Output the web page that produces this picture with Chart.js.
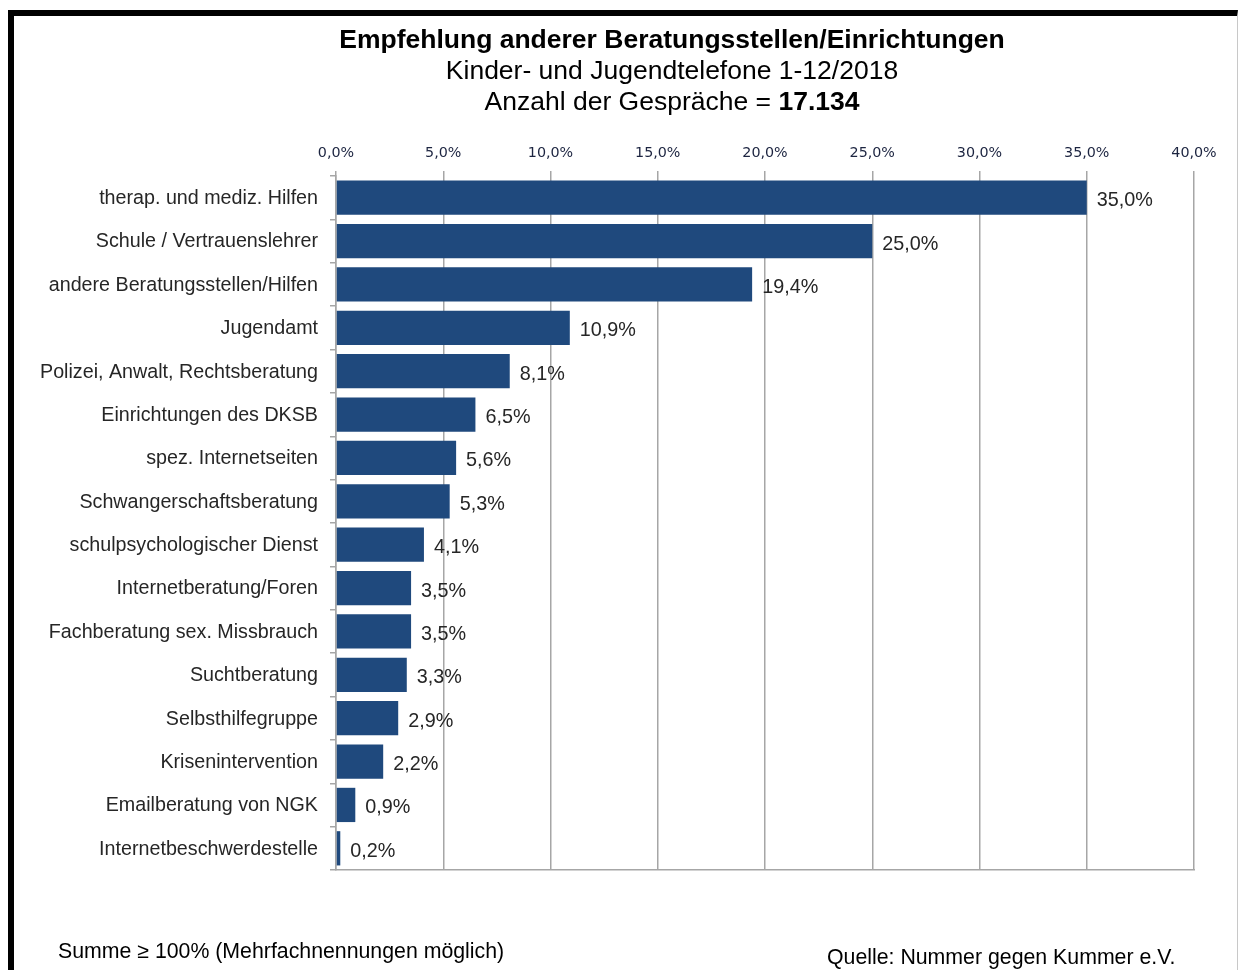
<!DOCTYPE html>
<html lang="de">
<head>
<meta charset="utf-8">
<title>Empfehlung anderer Beratungsstellen/Einrichtungen</title>
<script src="https://cdn.jsdelivr.net/npm/chart.js@4.4.0/dist/chart.umd.min.js"></script>
<style>
    html, body { margin: 0; padding: 0; background: #fff; }
    #page { position: relative; width: 1240px; height: 970px; overflow: hidden; font-family: "Liberation Sans", Arial, sans-serif; color: #000; }
    #frame { position: absolute; left: 8px; top: 10px; width: 1223px; height: 970px; border-top: 6px solid #000; border-left: 6px solid #000; border-right: 1px solid #c8c8c8; }
    #chartBox { position: absolute; left: 0; top: 0; width: 1240px; height: 970px; }
    .line { position: absolute; left: 672px; transform: translateX(-50%); white-space: nowrap; font-size: 26.5px; line-height: 30px; }
    .note { position: absolute; white-space: nowrap; font-size: 21.3px; line-height: 24px; color: #000; }
</style>
</head>
<body>
<div id="page">
    <div id="frame"></div>
    <div id="chartBox"><canvas id="chart"></canvas></div>
    <div class="line" style="top:24px;font-weight:bold;">Empfehlung anderer Beratungsstellen/Einrichtungen</div>
    <div class="line" style="top:55px;">Kinder- und Jugendtelefone 1-12/2018</div>
    <div class="line" style="top:86px;">Anzahl der Gespräche = <b>17.134</b></div>
    <div class="note" style="left:58px;top:939px;">Summe ≥ 100% (Mehrfachnennungen möglich)</div>
    <div class="note" style="left:827px;top:945px;">Quelle: Nummer gegen Kummer e.V.</div>
</div>
<script>
const categories = [
    'therap. und mediz. Hilfen',
    'Schule / Vertrauenslehrer',
    'andere Beratungsstellen/Hilfen',
    'Jugendamt',
    'Polizei, Anwalt, Rechtsberatung',
    'Einrichtungen des DKSB',
    'spez. Internetseiten',
    'Schwangerschaftsberatung',
    'schulpsychologischer Dienst',
    'Internetberatung/Foren',
    'Fachberatung sex. Missbrauch',
    'Suchtberatung',
    'Selbsthilfegruppe',
    'Krisenintervention',
    'Emailberatung von NGK',
    'Internetbeschwerdestelle'
];
const shares = [35.0, 25.0, 19.4, 10.9, 8.1, 6.5, 5.6, 5.3, 4.1, 3.5, 3.5, 3.3, 2.9, 2.2, 0.9, 0.2];
const axisMin = 0;
const axisMax = 40;
const axisStep = 5;

const gridColor = '#a6a6a6';
const fmt = v => v.toFixed(1).replace('.', ',') + '%';

// value labels right of each bar
const barLabels = {
    id: 'barLabels',
    afterDatasetsDraw(chart) {
        const ctx = chart.ctx;
        const meta = chart.getDatasetMeta(0);
        ctx.save();
        ctx.font = '19.8px "Liberation Sans", Arial, sans-serif';
        ctx.fillStyle = '#262626';
        ctx.textAlign = 'left';
        ctx.textBaseline = 'middle';
        meta.data.forEach((bar, i) => {
            ctx.fillText(fmt(shares[i]), bar.x + 10, bar.y + 3);
        });
        ctx.restore();
    }
};

document.addEventListener('DOMContentLoaded', () => {
    const data = {
        labels: categories,
        datasets: [{
            data: shares,
            backgroundColor: '#1F497D',
            borderWidth: 0,
            barPercentage: 0.79,
            categoryPercentage: 1
        }]
    };

    const config = {
        type: 'bar',
        data: data,
        options: {
            indexAxis: 'y',
            responsive: true,
            maintainAspectRatio: false,
            animation: false,
            layout: {
                padding: { left: 0, top: 0, right: 46, bottom: 100 }
            },
            plugins: {
                legend: { display: false },
                tooltip: { enabled: false }
            },
            scales: {
                x: {
                    position: 'top',
                    min: axisMin,
                    max: axisMax,
                    ticks: {
                        stepSize: axisStep,
                        padding: 9,
                        color: '#1c2440',
                        font: { family: '"DejaVu Sans", Verdana, sans-serif', size: 14.3 },
                        callback: v => fmt(v)
                    },
                    grid: { color: gridColor, lineWidth: 1.5, tickLength: 5 },
                    border: { display: false },
                    afterFit(s) { s.height = 176; }
                },
                xb: {
                    type: 'linear',
                    axis: 'x',
                    position: 'bottom',
                    min: axisMin,
                    max: axisMax,
                    ticks: { display: false },
                    grid: { display: false, drawTicks: false },
                    border: { display: true, color: gridColor, width: 1.5 },
                    afterFit(s) { s.height = 0; }
                },
                y: {
                    ticks: {
                        padding: 12,
                        labelOffset: 1,
                        color: '#262626',
                        font: { family: '"Liberation Sans", Arial, sans-serif', size: 19.7 }
                    },
                    grid: { offset: true, drawOnChartArea: false, color: gridColor, lineWidth: 1.5, tickLength: 6 },
                    border: { display: true, color: gridColor, width: 1.5 },
                    afterFit(s) { s.width = 336; }
                }
            }
        },
        plugins: [barLabels]
    };

    const ctx = document.getElementById('chart').getContext('2d');
    new Chart(ctx, config);
});
</script>
</body>
</html>
